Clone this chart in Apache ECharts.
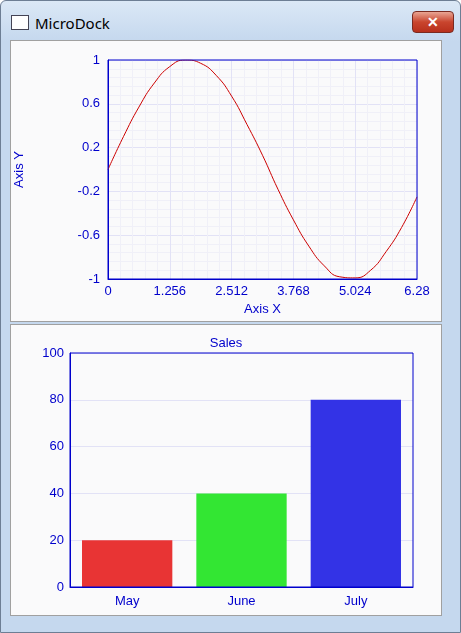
<!DOCTYPE html>
<html><head><meta charset="utf-8">
<script src="https://cdn.jsdelivr.net/npm/echarts@6/dist/echarts.min.js"></script>
<style>
body{margin:0;width:461px;height:633px;overflow:hidden;font-family:"Segoe UI","Noto Sans",sans-serif;}
#win{position:absolute;left:0;top:0;width:459px;height:631px;border:1px solid #6d7e94;border-radius:6px 6px 0 0;background:linear-gradient(#dbe8f6,#c5d8ee 40px,#c5d8ee);}
#title{position:absolute;left:34px;top:12px;font-size:15px;color:#000;}
#icon{position:absolute;left:10px;top:14px;width:16px;height:13px;border:1px solid #445;background:#fff;}
#close{position:absolute;left:411px;top:10px;width:40px;height:20px;border:1px solid #7a2a20;border-radius:4px;background:linear-gradient(#e9a593,#c9452e 50%,#b8301c);color:#fff;font-size:14px;text-align:center;line-height:20px;font-weight:bold;}
.panel{position:absolute;left:10px;width:430px;background:#fafafb;border:1px solid #a0a0a0;}
#p1{top:40px;height:280px;}
#p2{top:324px;height:290px;}
</style></head><body>
<div id="win"><div id="icon"></div><div id="title">MicroDock</div><div id="close">✕</div></div>
<div class="panel" id="p1"></div>
<div class="panel" id="p2"></div>
<script>
var sineX = [0,0.314,0.628,0.942,1.256,1.57,1.884,2.198,2.512,2.826,3.14,3.454,3.768,4.082,4.396,4.71,5.024,5.338,5.652,5.966,6.28];
var sineY = [0,0.30,0.57,0.79,0.94,1.0,0.97,0.86,0.67,0.41,0.13,-0.18,-0.46,-0.70,-0.88,-0.98,-0.99,-0.92,-0.75,-0.53,-0.25];
var salesMonths = ['May','June','July'];
var salesValues = [20,40,80];
var salesColors = ['#e83434','#33e633','#3333e6'];
var blue = '#0000cc';
var fmt = function (v) { return String(+v.toFixed(3)); };

var c1 = echarts.init(document.getElementById('p1'));
c1.setOption({
  animation:false,
  grid:{left:97,right:24,top:19,bottom:42,containLabel:false,outerBoundsMode:'none'},
  xAxis:{type:'value',min:0,max:6.28,interval:1.256,name:'Axis X',nameLocation:'middle',nameGap:24,
    nameTextStyle:{color:blue,fontSize:13},
    axisLine:{onZero:false,lineStyle:{color:blue,width:1}},axisTick:{show:false},
    axisLabel:{color:blue,fontSize:13,formatter:fmt,margin:6},
    splitLine:{lineStyle:{color:'#e2e2f6'}},minorTick:{show:false},
    minorSplitLine:{show:true,lineStyle:{color:'#f0f0f8'}}},
  yAxis:{type:'value',min:-1,max:1,interval:0.4,name:'Axis Y',nameLocation:'middle',nameGap:82,
    nameTextStyle:{color:blue,fontSize:13},
    axisLine:{show:true,lineStyle:{color:blue}},axisTick:{show:false},
    axisLabel:{color:blue,fontSize:13,formatter:fmt,margin:8},
    splitLine:{lineStyle:{color:'#e2e2f6'}},
    minorSplitLine:{show:true,lineStyle:{color:'#f0f0f8'}}},
  series:[{type:'line',smooth:true,symbol:'none',data:sineX.map(function(x,i){return [x,sineY[i]];}),
    lineStyle:{color:'#cc0000',width:1}}]
});
c1.setOption({graphic:[{type:'rect',shape:{x:97,y:19,width:309,height:219},style:{fill:null,stroke:blue,lineWidth:1},z:100}]});

var c2 = echarts.init(document.getElementById('p2'));
c2.setOption({
  animation:false,
  title:{text:'Sales',left:'center',top:7,textStyle:{color:blue,fontSize:13,fontWeight:'normal'}},
  grid:{left:59,right:28,top:28,bottom:28,containLabel:false,outerBoundsMode:'none'},
  xAxis:{type:'category',data:salesMonths,
    axisLine:{lineStyle:{color:blue}},axisTick:{show:false},
    axisLabel:{color:blue,fontSize:13,margin:8}},
  yAxis:{type:'value',min:0,max:100,interval:20,
    axisLine:{show:true,lineStyle:{color:blue}},axisTick:{show:false},
    axisLabel:{color:blue,fontSize:13,margin:6},
    splitLine:{lineStyle:{color:'#e2e2f6'}}},
  series:[{type:'bar',barWidth:'79%',data:salesValues.map(function(v,i){return {value:v,itemStyle:{color:salesColors[i]}};})}]
});
c2.setOption({graphic:[{type:'rect',shape:{x:59,y:28,width:343,height:234},style:{fill:null,stroke:blue,lineWidth:1},z:100}]});
</script>
</body></html>
